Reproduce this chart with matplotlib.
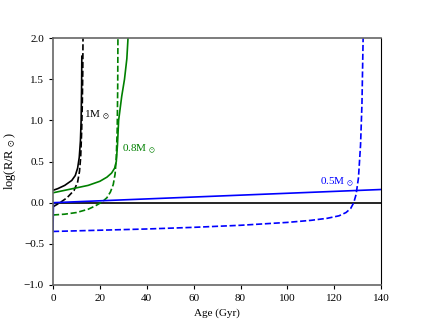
import matplotlib
matplotlib.use('Agg')
import matplotlib.pyplot as plt

plt.rcParams['font.family'] = 'Liberation Serif'
plt.rcParams['mathtext.fontset'] = 'stix'

# 1 Msun
age_1_solid = [0, 2, 5, 8, 9.5, 10.5, 11.2, 11.7, 12.0, 12.2, 12.3]
r_1_solid = [0.15, 0.17, 0.21, 0.27, 0.33, 0.42, 0.55, 0.75, 1.0, 1.4, 1.78]
age_1_dash = [0, 3, 6, 9, 10.5, 11.3, 11.8, 12.2, 12.5, 12.7, 12.8]
r_1_dash = [-0.05, 0.0, 0.06, 0.15, 0.25, 0.38, 0.55, 0.85, 1.2, 1.6, 2.0]

# 0.8 Msun
age_08_solid = [0, 5, 10, 15, 20, 23, 25, 26.3, 27.0, 27.5, 28.0, 29.3, 30.5, 31.5, 32.0]
r_08_solid = [0.12, 0.15, 0.18, 0.21, 0.26, 0.31, 0.36, 0.42, 0.5, 0.7, 1.0, 1.29, 1.5, 1.75, 2.0]
age_08_dash = [0, 5, 10, 15, 18, 21, 23, 24.5, 25.7, 26.5, 27.0, 27.4, 27.6, 27.7]
r_08_dash = [-0.15, -0.14, -0.12, -0.08, -0.04, 0.01, 0.06, 0.13, 0.22, 0.35, 0.55, 0.9, 1.4, 2.0]

# 0.5 Msun
age_05_solid = [0, 0.2, 140]
r_05_solid = [-0.35, 0.0, 0.16]
age_05_dash = [0, 20, 40, 60, 80, 100, 110, 117, 122, 125, 127, 128.3, 129.3, 130.3, 131.2, 131.8, 132.3]
r_05_dash = [-0.35, -0.335, -0.32, -0.3, -0.275, -0.24, -0.215, -0.19, -0.16, -0.12, -0.07, 0.0, 0.1, 0.3, 0.7, 1.2, 2.0]

fig = plt.figure(figsize=(4.24, 3.26), dpi=100)
ax = fig.add_axes([0.125, 0.126, 0.774, 0.757])

ax.axhline(0, color='k', lw=1.2)
ax.plot(age_1_solid, r_1_solid, color='k', lw=1.2)
ax.plot(age_1_dash, r_1_dash, color='k', lw=1.2, ls='--')
ax.plot(age_08_solid, r_08_solid, color='g', lw=1.2)
ax.plot(age_08_dash, r_08_dash, color='g', lw=1.2, ls='--')
ax.plot(age_05_solid, r_05_solid, color='b', lw=1.2)
ax.plot(age_05_dash, r_05_dash, color='b', lw=1.2, ls='--')

ax.text(13.3, 1.03, r'1M$_{\ \odot}$', color='k', fontsize=8)
ax.text(29.5, 0.62, r'0.8M$_{\ \odot}$', color='g', fontsize=8)
ax.text(114, 0.22, r'0.5M$_{\ \odot}$', color='b', fontsize=8)

ax.set_xlim(0, 140)
ax.set_ylim(-1.0, 2.0)
ax.set_xticks(range(0, 141, 20))
ax.set_yticks([-1.0, -0.5, 0.0, 0.5, 1.0, 1.5, 2.0])
ax.set_xlabel('Age (Gyr)', fontsize=8)
ax.set_ylabel(r'log(R/R$_{\ \odot}$)', fontsize=9)
ax.tick_params(labelsize=8, length=3, width=0.8)
for s in ['left', 'top', 'bottom']:
    ax.spines[s].set_color('#666666')
    ax.spines[s].set_linewidth(1.2)

fig.savefig('out.png', dpi=100)
